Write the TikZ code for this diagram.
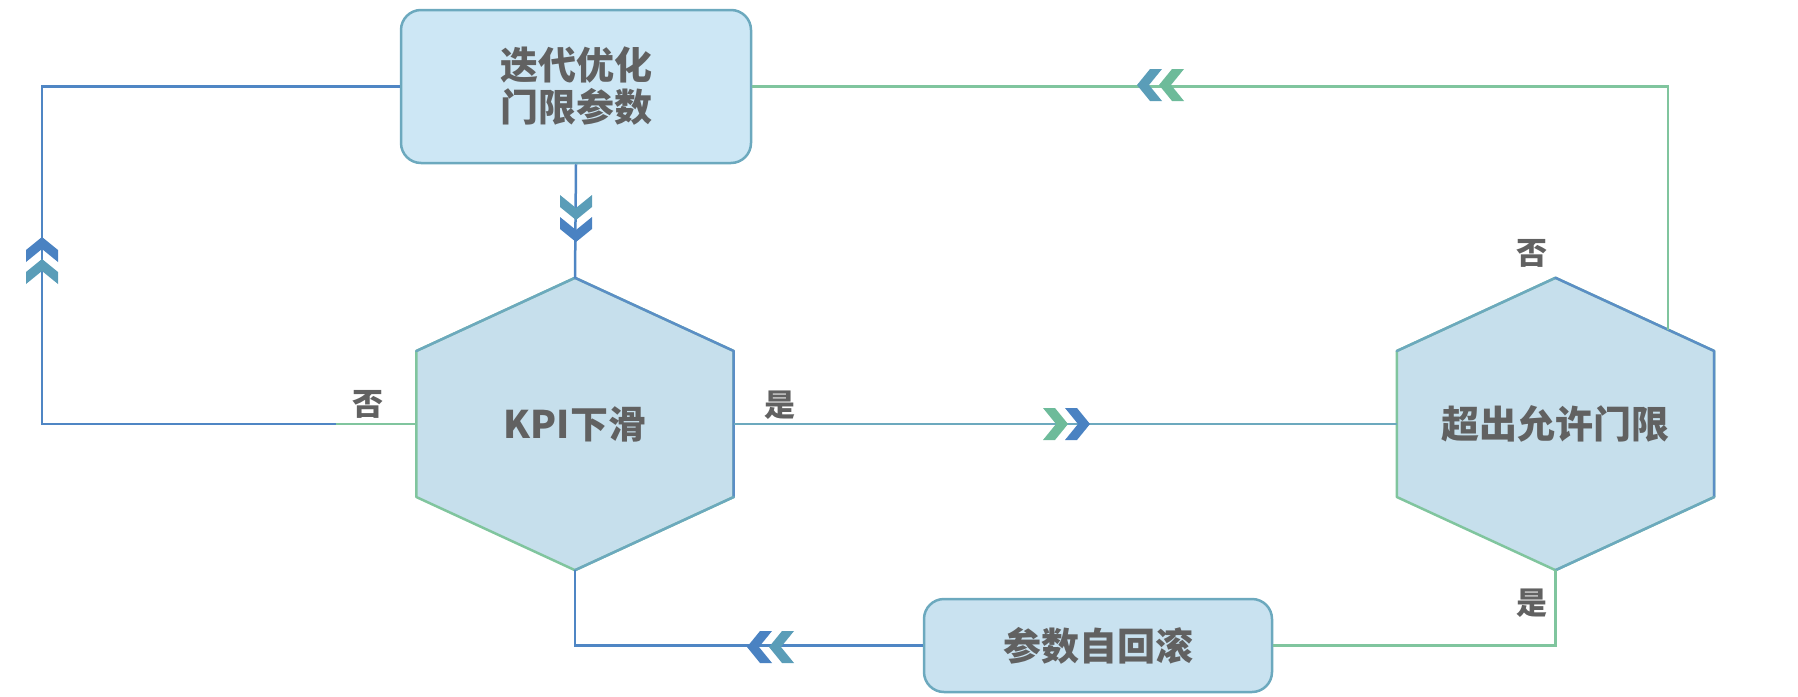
\documentclass[tikz,border=0pt]{standalone}
\usepackage{fontspec}
\newfontfamily\cjk{Noto Sans CJK SC}
\usetikzlibrary{calc,backgrounds}
\definecolor{txt}{HTML}{616161}
\definecolor{boxfill}{HTML}{CDE7F5}
\definecolor{hexfill}{HTML}{C6DFEC}
\definecolor{cgreen}{HTML}{80C59E}
\definecolor{cblue}{HTML}{5B8EC6}
\definecolor{cteal}{HTML}{6CA9BE}
\definecolor{lblue}{HTML}{4F86C4}
\definecolor{chgreen}{HTML}{6DBB9A}
\definecolor{chblue}{HTML}{4A82C2}
\definecolor{chteal}{HTML}{5A9DB8}

\newcommand\dchev[4]{%
  \begin{scope}[shift={#1},rotate=#2]
    \fill[#3] (-22,0) -- (-35,-16) -- (-47,-16) -- (-34,0) -- (-47,16) -- (-35,16) -- cycle;
    \fill[#4] (0,0) -- (-13,-16) -- (-25,-16) -- (-12,0) -- (-25,16) -- (-13,16) -- cycle;
  \end{scope}}

\newcommand\hexshape[1]{%
  \coordinate (#1-ne) at ($(#1.east)+(0,-73)$);
  \coordinate (#1-se) at ($(#1.east)+(0,73)$);
  \coordinate (#1-nw) at ($(#1.west)+(0,-73)$);
  \coordinate (#1-sw) at ($(#1.west)+(0,73)$);
  \begin{scope}[on background layer]
    \filldraw[fill=hexfill, draw=cgreen, line width=2.5pt, line join=round]
      (#1.north) -- (#1-ne) -- (#1-se) -- (#1.south) -- (#1-sw) -- (#1-nw) -- cycle;
    \draw[cteal, line width=2.5pt, line join=round, line cap=round] (#1-nw) -- (#1.north);
    \draw[cblue, line width=2.5pt, line join=round, line cap=round] (#1.north) -- (#1-ne) -- (#1-se);
    \draw[cteal, line width=2.5pt, line join=round, line cap=round] (#1-se) -- (#1.south);
  \end{scope}}

\begin{document}
\begin{tikzpicture}[x=1pt,y=-1pt,
  box/.style={draw=cteal, line width=2.5pt, fill=boxfill, rounded corners=20pt,
    inner sep=0pt, align=center, text=txt,
    font=\cjk\bfseries\fontsize{38}{42}\selectfont},
  hexnode/.style={minimum width=317pt, minimum height=292pt, inner sep=0pt,
    text=txt, font=\cjk\bfseries\fontsize{38}{42}\selectfont},
  lab/.style={text=txt, font=\cjk\bfseries\fontsize{31}{31}\selectfont, inner sep=0pt},
  conn/.style={line width=2.5pt}]

\useasboundingbox (0,0) rectangle (1798,696);

% nodes
\node[box, minimum width=350pt, minimum height=153pt] (opt) at (576,86.5) {迭代优化\\门限参数};
\node[hexnode] (kpi) at (575,424) {KPI下滑};
\node[hexnode] (exc) at (1555.5,424) {超出允许门限};
\node[box, fill=hexfill!60!boxfill, minimum width=348pt, minimum height=93pt] (rb) at (1098,645.5) {参数自回滚};

\hexshape{kpi}
\hexshape{exc}

% labels
\node[lab] (n1) at (368,404) {否};
\node[lab] (y1) at (780,405) {是};
\node[lab] (n2) at (1532,253) {否};
\node[lab] (y2) at (1532,603) {是};

% connectors
\coordinate (L) at (42,250);
\draw[conn, lblue] (opt.south) -- (kpi.north);
\draw[conn, lblue] (kpi.west) -| (L) |- (opt.west);
\draw[conn, cgreen] (kpi.west) -- ++(-80,0);
\draw[conn, cteal] (kpi.east) -- (exc.west);
\draw[conn, cgreen] ($(exc.north)!0.709!(exc-ne)$) |- (opt.east);
\draw[conn, cgreen] (exc.south) |- (rb.east);
\draw[conn, lblue] (rb.west) -| (kpi.south);

% arrowheads
\dchev{(576,242)}{-90}{chteal}{chblue}
\dchev{(42,237)}{90}{chteal}{chblue}
\dchev{(1090,424)}{0}{chgreen}{chblue}
\dchev{(1137,85)}{180}{chgreen}{chteal}
\dchev{(747,647)}{180}{chteal}{chblue}

\end{tikzpicture}
\end{document}
